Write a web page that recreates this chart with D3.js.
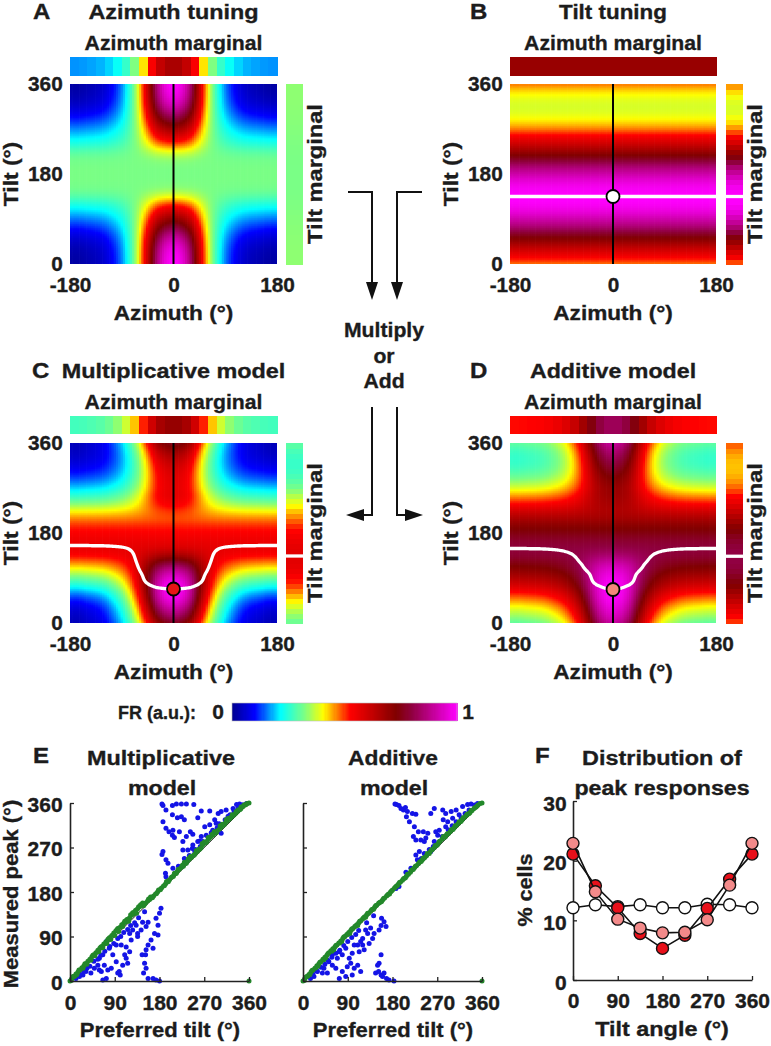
<!DOCTYPE html>
<html><head><meta charset="utf-8">
<script src="https://cdn.jsdelivr.net/npm/d3@7"></script>
<style>
body{margin:0;background:#fff}
svg text{font-family:"Liberation Sans",Arial,Helvetica,sans-serif;font-weight:bold;fill:#1c1c1c;stroke:#1c1c1c;stroke-width:0.35px}
</style>
</head><body>
<svg id="fig" width="771" height="1046"></svg>
<script>
// ---------------- DATA ----------------
// azimuth tuning curve (panel A, at tilt 0)
const azimuthSamples = [-180,-165,-150,-135,-120,-105,-90,-75,-60,-45,-30,-15,0,15,30,45,60,75,90,105,120,135,150,165,180];
const azimuthProfile = [0.02,0.02,0.03,0.04,0.06,0.10,0.16,0.26,0.41,0.62,0.84,0.96,1.0,0.96,0.84,0.62,0.41,0.26,0.16,0.10,0.06,0.04,0.03,0.02,0.02];
// depth of azimuth tuning as a function of tilt (panel A)
const tiltSamples = [0,15,30,45,60,75,90,105,120,135,150,165,180,195,210,225,240,255,270,285,300,315,330,345,360];
const azimuthDepthByTilt = [1,0.99,0.96,0.9,0.81,0.69,0.56,0.42,0.27,0.12,0.03,0.005,0,0.005,0.03,0.11,0.25,0.39,0.52,0.65,0.77,0.87,0.94,0.98,1];
const untunedLevel = 0.32;
// tilt tuning curve (panel B)
const tiltProfile = [0.47,0.54,0.61,0.69,0.77,0.85,0.91,0.96,0.99,1.0,0.99,0.96,0.91,0.85,0.77,0.69,0.61,0.54,0.47,0.42,0.39,0.38,0.39,0.42,0.47];
const multiplicativeGamma = 0.75;

const heatTicksX = [-180,0,180];
const heatTicksY = [0,180,360];

// colour map
const colorStops = [0,0.1,0.215,0.325,0.405,0.525,0.73,0.8,1];
const colorHex = ["#00008f","#0000ff","#00ffff","#80ff80","#ffff00","#ff0000","#800000","#900040","#ff00ff"];
const colorbarTicks = [0,1];

// panel E scatter: [preferred tilt, measured peak]
const multBlue = [[185,358],[187,355],[206,355],[214,358],[224,358],[234,358],[249,357],[193,346],[206,336],[216,330],[224,332],[230,326],[187,322],[199,302],[193,309],[206,295],[210,290],[207,305],[220,302],[227,282],[234,292],[242,302],[247,297],[257,330],[264,344],[281,344],[271,312],[247,275],[227,265],[237,265],[246,268],[251,262],[187,262],[185,256],[193,245],[197,238],[192,218],[193,211],[207,228],[230,248],[261,283],[267,282],[281,316],[298,339],[304,343],[314,346],[328,349],[335,357],[341,358],[348,356],[355,359],[291,326],[294,319],[304,299],[287,305],[274,295],[264,292],[257,282],[262,272],[278,290],[296,310],[312,326],[322,336],[338,350],[346,356],[232,242],[218,232],[284,300],[300,318],[318,333],[330,344],[252,266],[240,254],
[183,147],[180,137],[173,127],[177,113],[157,119],[146,119],[153,110],[143,103],[136,96],[170,96],[177,93],[163,83],[157,73],[153,63],[167,66],[145,53],[152,53],[123,83],[113,69],[120,59],[110,53],[113,46],[116,36],[106,32],[99,19],[101,12],[93,39],[86,53],[79,66],[73,80],[66,53],[59,46],[56,32],[69,32],[49,26],[42,16],[32,19],[26,12],[19,9],[12,5],[63,19],[73,5],[66,2],[150,36],[153,26],[148,16],[157,5],[167,5],[173,2],[180,0],[96,16],[126,103],[133,113],[120,96],[136,90],[93,73],[103,73],[83,26],[76,22],[59,22],[20,14],[34,26],[48,40],[62,52],[80,70],[96,86],[108,98],[122,112],[138,128],[150,140],[28,20],[40,30],[56,44],[70,60],[88,76],[102,90],[116,104],[130,118]];
const multGreen = [[0,0],[4,5],[8,9],[12,14],[16,18],[20,22],[24,27],[28,31],[32,35],[36,40],[40,44],[44,49],[48,53],[52,57],[56,62],[60,66],[64,70],[68,75],[72,79],[76,84],[80,88],[84,92],[88,97],[92,101],[96,106],[100,108],[104,114],[108,117],[112,120],[116,125],[120,128],[124,133],[128,136],[132,143],[136,146],[140,150],[144,154],[148,152],[152,158],[156,162],[160,165],[164,168],[168,172],[172,176],[176,180],[180,184],[184,188],[188,192],[192,196],[196,200],[200,205],[204,210],[208,212],[212,217],[216,222],[220,226],[224,230],[228,232],[232,238],[236,242],[240,246],[244,250],[248,254],[252,258],[256,262],[260,266],[264,270],[268,276],[272,280],[276,283],[280,288],[284,292],[288,296],[292,300],[296,304],[300,307],[304,311],[308,315],[312,319],[316,323],[320,327],[324,331],[328,334],[332,338],[336,342],[340,346],[344,349],[348,353],[352,356],[356,359],[360,360],[360,0],
[10,10],[26,26],[42,42],[58,59],[74,76],[90,92],[106,110],[114,124],[122,134],[130,140],[138,150],[146,158],[158,166],[174,177],[190,193],[206,211],[218,226],[230,240],[242,252],[254,264],[266,278],[278,290],[290,302],[302,314],[314,326],[326,336],[338,346],[350,356],
[6,9],[18,22],[30,35],[46,52],[62,69],[78,86],[94,103],[110,121],[126,138],[142,154],[162,170],[178,184],[194,201],[210,218],[226,234],[238,247],[258,266],[270,281],[286,297],[306,317],[318,329],[334,343],[344,352],[2,1],[14,13],[34,34],[50,51],[66,67],[82,84],[98,100],[118,121],[134,137],[150,155],[166,169],[182,185],[198,201],[214,218],[234,238],[250,255],[262,268],[274,280],[294,300],[310,316],[322,329],[342,347],[354,357]];
const addBlue = [[185,358],[188,357],[193,355],[197,349],[202,346],[206,351],[210,343],[208,332],[220,339],[227,337],[214,322],[224,312],[232,302],[242,302],[251,299],[222,292],[227,285],[237,285],[244,282],[247,289],[257,339],[264,349],[281,346],[287,339],[298,343],[308,346],[321,353],[331,357],[338,358],[345,356],[351,359],[267,302],[274,305],[282,326],[291,322],[301,329],[314,336],[257,262],[234,262],[244,258],[227,255],[230,245],[217,228],[207,220],[193,191],[187,187],[264,282],[271,295],[287,312],[262,272],[280,292],[300,314],[318,330],[334,346],[246,256],[238,248],[292,306],[308,322],[326,339],[254,266],
[158,127],[163,120],[157,112],[167,110],[153,103],[136,107],[126,103],[130,96],[143,96],[120,86],[116,80],[110,73],[120,73],[123,63],[103,73],[113,59],[99,56],[86,66],[79,53],[93,46],[96,36],[89,29],[103,26],[110,32],[116,19],[99,12],[73,59],[69,46],[59,53],[52,39],[59,32],[66,26],[42,26],[39,16],[29,19],[22,9],[15,5],[49,16],[73,5],[153,36],[157,53],[150,32],[152,19],[157,12],[160,9],[168,5],[173,2],[183,0],[146,16],[163,16],[79,19],[86,9],[133,76],[140,86],[20,14],[36,28],[50,42],[66,56],[82,72],[98,88],[112,102],[128,118],[142,132],[28,20],[44,34],[58,48],[74,62],[90,80],[106,94]];
const addGreen = [[0,0],[4,5],[8,9],[12,13],[16,18],[20,22],[24,26],[28,31],[32,35],[36,39],[40,44],[44,48],[48,52],[52,57],[56,61],[60,65],[64,69],[68,73],[72,77],[76,81],[80,86],[84,90],[88,94],[92,98],[96,102],[100,106],[104,110],[108,114],[112,118],[116,122],[120,126],[124,130],[128,134],[132,137],[136,141],[140,145],[144,149],[148,153],[152,157],[156,160],[160,164],[164,168],[168,172],[172,176],[176,180],[180,184],[184,188],[188,192],[192,196],[196,200],[200,204],[204,208],[208,212],[212,216],[216,220],[220,225],[224,229],[228,233],[232,237],[236,241],[240,245],[244,249],[248,253],[252,258],[256,262],[260,266],[264,270],[268,274],[272,278],[276,283],[280,287],[284,291],[288,295],[292,298],[296,302],[300,306],[304,310],[308,314],[312,318],[316,322],[320,326],[324,330],[328,334],[332,338],[336,341],[340,345],[344,349],[348,352],[352,356],[356,359],[360,360],[360,0],
[10,10],[26,27],[42,43],[58,60],[74,77],[90,94],[106,111],[122,128],[138,144],[154,159],[170,174],[186,190],[202,207],[218,224],[234,240],[250,258],[266,274],[282,292],[298,306],[314,322],[330,337],[346,351],
[6,8],[18,21],[34,38],[50,55],[66,72],[82,89],[98,105],[114,121],[130,137],[146,152],[162,167],[178,182],[194,199],[210,216],[226,232],[242,249],[258,265],[274,282],[290,298],[306,314],[322,330],[338,345],[2,1],[14,13],[30,30],[46,47],[62,63],[78,80],[94,96],[110,112],[126,129],[142,145],[158,161],[174,176],[190,193],[206,209],[222,226],[238,242],[254,258],[270,275],[286,291],[302,307],[318,323],[334,339],[350,354]];
const scatterTicks = [0,90,180,270,360];

// panel F
const fTilt = [0,45,90,135,180,225,270,315,360];
const fUniform = [12.1,12.6,12.3,12.6,12.1,12.1,12.7,12.6,12.1];
const fMult = [21.1,15.8,12.1,7.8,5.3,7.5,12.0,16.9,21.1];
const fAdd = [22.9,14.8,10.2,8.7,7.9,8.0,10.1,15.9,22.9];
const fTicksX = [0,90,180,270,360];
const fTicksY = [0,10,20,30];

// ---------------- DRAWING ----------------
const svg = d3.select("#fig");
const FONT = '"Liberation Sans", Arial, Helvetica, sans-serif';
const cmap = d3.scaleLinear().domain(colorStops).range(colorHex).clamp(true);

// text helper: o.sx is the horizontal stretch relative to a 20px font
function txt(x, y, s, o = {}) {
  const size = o.size || 21;
  const sx = (o.sx || 1) * 20 / size;
  return svg.append("text")
    .attr("transform", `translate(${x},${y}) rotate(${o.rot || 0}) scale(${sx},1)`)
    .attr("text-anchor", o.anchor || "middle")
    .attr("font-size", size)
    .text(s);
}

// smooth periodic interpolation through the sampled curves (uniform spacing, last sample == first)
function periodicCurve(xs, ys) {
  const n = ys.length - 1, x0 = xs[0], h = xs[1] - xs[0];
  const at = k => ys[((k % n) + n) % n];
  return v => {
    let u = (v - x0) / h, i = Math.floor(u);
    if (i >= n) i = n - 1; if (i < 0) i = 0;
    const f = u - i, p0 = at(i - 1), p1 = at(i), p2 = at(i + 1), p3 = at(i + 2);
    return 0.5 * (2 * p1 + (-p0 + p2) * f + (2 * p0 - 5 * p1 + 4 * p2 - p3) * f * f + (-p0 + 3 * p1 - 3 * p2 + p3) * f * f * f);
  };
}
const azS = periodicCurve(azimuthSamples, azimuthProfile);
const depthS = periodicCurve(tiltSamples, azimuthDepthByTilt);
const tiltS = periodicCurve(tiltSamples, tiltProfile);

const fA = (az, t) => untunedLevel + Math.max(0, depthS(t)) * (Math.max(0, azS(az)) - untunedLevel);
const fB = (az, t) => tiltS(t);
let maxMul = 0, maxAdd = 0;
for (let a = -180; a <= 180; a += 2) for (let t = 0; t <= 360; t += 1) {
  const p = fA(a, t) * fB(a, t), s = fA(a, t) + fB(a, t);
  if (p > maxMul) maxMul = p; if (s > maxAdd) maxAdd = s;
}
const fC = (az, t) => Math.pow(fA(az, t) * fB(az, t) / maxMul, multiplicativeGamma);
const fD = (az, t) => (fA(az, t) + fB(az, t)) / maxAdd;

const panels = [
  {L:"A", f:fA, x0:70, x1:277, y0:84, y1:264, mt:[57,76], ms:[286,303], title:"Azimuth tuning", tsx:1.17, lx:33, ty:19, ylx:18, slx:322, white:false},
  {L:"B", f:fB, x0:510, x1:716, y0:84, y1:264, mt:[57,76], ms:[726,743], title:"Tilt tuning", tsx:1.12, lx:470, ty:19, ylx:458, slx:762, white:true, mk:"#ffffff"},
  {L:"C", f:fC, x0:70, x1:277, y0:443, y1:623, mt:[416,434], ms:[286,303], title:"Multiplicative model", tsx:1.17, lx:32, ty:378, ylx:18, slx:322, white:true, mk:"#e81515"},
  {L:"D", f:fD, x0:510, x1:716, y0:443, y1:623, mt:[416,434], ms:[726,743], title:"Additive model", tsx:1.16, lx:470, ty:378, ylx:458, slx:762, white:true, mk:"#f4877a"}
];

const cellStep = 4;
const cells = d3.cross(d3.range(-180, 180, cellStep), d3.range(0, 360, cellStep));
const azBinStep = 15, tiltBinStep = 10;

panels.forEach((P) => {
  const x = d3.scaleLinear().domain([-180, 180]).range([P.x0, P.x1]);
  const y = d3.scaleLinear().domain([0, 360]).range([P.y1, P.y0]);
  const g = svg.append("g");
  const clipId = "clip" + P.L;
  svg.append("clipPath").attr("id", clipId).append("rect")
    .attr("x", P.x0).attr("y", P.y0).attr("width", P.x1 - P.x0).attr("height", P.y1 - P.y0);
  const hg = g.append("g").attr("clip-path", `url(#${clipId})`);
  const cw = x(cellStep) - x(0) + 0.6, ch = y(0) - y(cellStep) + 0.6;
  hg.selectAll("rect").data(cells).join("rect")
    .attr("x", d => x(d[0])).attr("y", d => y(d[1] + cellStep) - 0.3)
    .attr("width", cw).attr("height", ch)
    .attr("fill", d => cmap(P.f(d[0] + cellStep / 2, d[1] + cellStep / 2)));

  // marginals
  const azBins = d3.range(-180, 180, azBinStep).map(a => ({a, v: d3.mean(d3.range(0, 360, 2), t => P.f(a + azBinStep / 2, t + 1))}));
  g.append("g").attr("shape-rendering", "crispEdges").selectAll("rect").data(azBins).join("rect")
    .attr("x", d => x(d.a)).attr("y", P.mt[0])
    .attr("width", x(azBinStep) - x(0) + 0.5).attr("height", P.mt[1] - P.mt[0])
    .attr("fill", d => cmap(d.v));
  const tBins = d3.range(0, 360, tiltBinStep).map(t => ({t, v: d3.mean(d3.range(-180, 180, 2), a => P.f(a + 1, t + tiltBinStep / 2))}));
  g.append("g").attr("shape-rendering", "crispEdges").selectAll("rect").data(tBins).join("rect")
    .attr("x", P.ms[0]).attr("y", d => y(d.t + tiltBinStep))
    .attr("width", P.ms[1] - P.ms[0]).attr("height", y(0) - y(tiltBinStep) + 0.5)
    .attr("fill", d => cmap(d.v));

  // preferred tilt curves
  const argmaxT = (fn) => { let best = -Infinity, bt = 0; for (let t = 0; t < 360; t += 0.5) { const v = fn(t); if (v > best) { best = v; bt = t; } } return bt; };
  if (P.white) {
    const curve = d3.range(-180, 181, 2).map(a => [a, argmaxT(t => P.f(a, t))]);
    g.append("path").datum(curve)
      .attr("d", d3.line().x(d => x(d[0])).y(d => y(d[1])).curve(d3.curveBasis))
      .attr("fill", "none").attr("stroke", "#fff").attr("stroke-width", 3.3)
      .attr("clip-path", `url(#${clipId})`);
    const margPeak = argmaxT(t => d3.mean(d3.range(-180, 180, 3), a => P.f(a + 1.5, t)));
    g.append("line").attr("x1", P.ms[0]).attr("x2", P.ms[1])
      .attr("y1", y(margPeak)).attr("y2", y(margPeak))
      .attr("stroke", "#fff").attr("stroke-width", 3.3);
  }
  g.append("line").attr("x1", x(0)).attr("x2", x(0)).attr("y1", P.y0).attr("y2", P.y1)
    .attr("stroke", "#000").attr("stroke-width", 2);
  if (P.mk) {
    const tp = argmaxT(t => P.f(0, t));
    g.append("circle").attr("cx", x(0)).attr("cy", y(tp)).attr("r", 6.5)
      .attr("fill", P.mk).attr("stroke", "#000").attr("stroke-width", 1.8);
  }

  // axes (labels only)
  const ax = g.append("g").attr("transform", `translate(0,${P.y1})`)
    .call(d3.axisBottom(x).tickValues(heatTicksX).tickSize(0).tickPadding(14).tickFormat(d => String(d)));
  const ay = g.append("g").attr("transform", `translate(${P.x0},0)`)
    .call(d3.axisLeft(y).tickValues(heatTicksY).tickSize(0).tickPadding(7).tickFormat(d => String(d)));
  [ax, ay].forEach(a => {
    a.select(".domain").remove();
    a.attr("font-size", 20).attr("font-family", FONT);
    a.selectAll(".tick text").attr("transform", "scale(1.04,1)");
  });

  const cx = (P.x0 + P.x1) / 2, cy = (P.y0 + P.y1) / 2;
  txt(P.lx, P.ty, P.L, {anchor: "start", size: 22, sx: 1.2});
  txt(cx, P.ty, P.title, {sx: P.tsx});
  txt(cx, P.mt[0] - 7, "Azimuth marginal", {sx: 1.06});
  txt(cx, P.y1 + 56, "Azimuth (°)", {sx: 1.13});
  txt(P.ylx, cy, "Tilt (°)", {rot: -90, sx: 1.14});
  txt(P.slx, cy, "Tilt marginal", {rot: -90, sx: 1.18});
});

// arrows + text in the middle
const arrowStroke = "#111";
svg.append("path").attr("d", "M348,192H372V286").attr("fill", "none").attr("stroke", arrowStroke).attr("stroke-width", 2);
svg.append("path").attr("d", "M422,192H397V286").attr("fill", "none").attr("stroke", arrowStroke).attr("stroke-width", 2);
svg.append("path").attr("d", "M366,282L378,282L372,300Z").attr("fill", arrowStroke);
svg.append("path").attr("d", "M391,282L403,282L397,300Z").attr("fill", arrowStroke);
svg.append("path").attr("d", "M372,407V515H362").attr("fill", "none").attr("stroke", arrowStroke).attr("stroke-width", 2);
svg.append("path").attr("d", "M397,407V515H407").attr("fill", "none").attr("stroke", arrowStroke).attr("stroke-width", 2);
svg.append("path").attr("d", "M364,509L364,521L346,515Z").attr("fill", arrowStroke);
svg.append("path").attr("d", "M405,509L405,521L423,515Z").attr("fill", arrowStroke);
txt(384, 337, "Multiply", {sx: 1.06});
txt(384, 363, "or", {sx: 1.06});
txt(384, 388, "Add", {sx: 1.06});

// colour bar
const cb = d3.scaleLinear().domain([0, 1]).range([232, 457]);
const cbStep = 0.005;
svg.append("g").attr("shape-rendering", "crispEdges").selectAll("rect").data(d3.range(0, 1, cbStep)).join("rect")
  .attr("x", d => cb(d)).attr("y", 703).attr("width", cb(cbStep) - cb(0) + 0.5).attr("height", 18)
  .attr("fill", d => cmap(d + cbStep / 2));
svg.append("rect").attr("x", 232).attr("y", 703).attr("width", 225).attr("height", 18)
  .attr("fill", "none").attr("stroke", "#bbb").attr("stroke-width", 0.6);
txt(196, 719, "FR (a.u.):", {anchor: "end", size: 19, sx: 0.9});
txt(cb(colorbarTicks[0]) - 14, 719, String(colorbarTicks[0]), {sx: 1.05});
txt(cb(colorbarTicks[1]) + 11, 719, String(colorbarTicks[1]), {sx: 1.05});

function styleAxis(a, sx) {
  a.attr("font-size", 20).attr("font-family", FONT);
  a.select(".domain").attr("stroke", "#222").attr("stroke-width", 1.6);
  a.selectAll(".tick line").attr("stroke", "#222").attr("stroke-width", 1.3);
  a.selectAll(".tick text").attr("transform", `scale(${sx},1)`);
}

// panel E
function scatter(x0, x1, blue, green, yLabels) {
  const x = d3.scaleLinear().domain([0, 360]).range([x0, x1]);
  const y = d3.scaleLinear().domain([0, 360]).range([981, 803]);
  const g = svg.append("g");
  g.append("line").attr("x1", x(0)).attr("y1", y(0)).attr("x2", x(360)).attr("y2", y(360))
    .attr("stroke", "#000").attr("stroke-width", 0.9);
  g.append("g").selectAll("circle").data(blue).join("circle")
    .attr("cx", d => x(d[0])).attr("cy", d => y(d[1])).attr("r", 2.5).attr("fill", "#1414e6");
  g.append("g").selectAll("circle").data(green).join("circle")
    .attr("cx", d => x(d[0])).attr("cy", d => y(d[1])).attr("r", 2.5).attr("fill", "#23882a");
  const ax = g.append("g").attr("transform", "translate(0,981)")
    .call(d3.axisBottom(x).tickValues(scatterTicks).tickSizeInner(-4).tickSizeOuter(0).tickPadding(15).tickFormat(d => String(d)));
  const ay = g.append("g").attr("transform", `translate(${x0},0)`)
    .call(d3.axisLeft(y).tickValues(scatterTicks).tickSizeInner(-4).tickSizeOuter(0).tickPadding(7)
      .tickFormat(d => yLabels ? String(d) : ""));
  styleAxis(ax, 1.05); styleAxis(ay, 1.05);
  ay.selectAll(".tick text").attr("dy", "0.4em");
}
scatter(70, 249, multBlue, multGreen, true);
scatter(303, 482, addBlue, addGreen, false);
txt(33, 763, "E", {anchor: "start", size: 22, sx: 1.2});
txt(161, 765, "Multiplicative", {sx: 1.17});
txt(162, 795, "model", {sx: 1.16});
txt(393, 765, "Additive", {sx: 1.14});
txt(394, 795, "model", {sx: 1.16});
txt(160, 1037, "Preferred tilt (°)", {sx: 1.1});
txt(393, 1037, "Preferred tilt (°)", {sx: 1.1});
txt(18, 894, "Measured peak (°)", {rot: -90, sx: 1.1});

// panel F
{
  const x = d3.scaleLinear().domain([0, 360]).range([573, 752]);
  const y = d3.scaleLinear().domain([0, 30]).range([980, 801]);
  const g = svg.append("g");
  const ax = g.append("g").attr("transform", "translate(0,980)")
    .call(d3.axisBottom(x).tickValues(fTicksX).tickSizeInner(-4).tickSizeOuter(0).tickPadding(14).tickFormat(d => String(d)));
  const ay = g.append("g").attr("transform", "translate(573,0)")
    .call(d3.axisLeft(y).tickValues(fTicksY).tickSizeInner(-4).tickSizeOuter(0).tickPadding(6).tickFormat(d => String(d)));
  styleAxis(ax, 1.05); styleAxis(ay, 1.05);
  ay.selectAll(".tick text").attr("dy", "0.45em");
  const series = [
    {v: fUniform, c: "#ffffff"},
    {v: fMult, c: "#e8101a"},
    {v: fAdd, c: "#f38a8a"}
  ];
  const line = d3.line().x((d, i) => x(fTilt[i])).y(d => y(d));
  series.forEach(s => {
    g.append("path").datum(s.v).attr("d", line).attr("fill", "none").attr("stroke", "#111").attr("stroke-width", 1.6);
    g.append("g").selectAll("circle").data(s.v).join("circle")
      .attr("cx", (d, i) => x(fTilt[i])).attr("cy", d => y(d)).attr("r", 6)
      .attr("fill", s.c).attr("stroke", "#111").attr("stroke-width", 1.4);
  });
}
txt(535, 763, "F", {anchor: "start", size: 22, sx: 1.2});
txt(662, 765, "Distribution of", {sx: 1.17});
txt(662, 795, "peak responses", {sx: 1.16});
txt(662, 1036, "Tilt angle (°)", {sx: 1.17});
txt(532, 890, "% cells", {rot: -90, sx: 1.08});
</script>
</body></html>
